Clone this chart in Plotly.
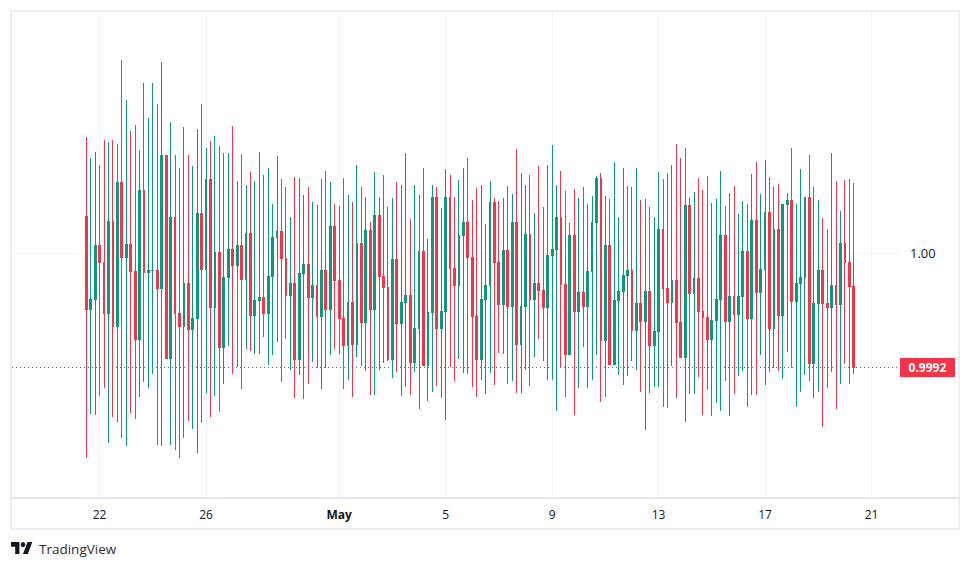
from datetime import datetime, timedelta
import plotly.graph_objects as go

# 4-hour candles, prices held as offsets from 1.00 in millionths.
START = datetime(2023, 4, 21, 12)
STEP_HOURS = 4
FIRST_OPEN = 253
CLOSE_OFFSETS = [
    -393, -323, 56, -70, -421, 218, -519, 498, -28, 63, -133, -604, 442, -140, -126, -123, -246, 681, -737, 246,
    -421, -519, -211, -540, -463, 274, -119, 519, -379, 7, -660, -175, 28, -91, 56, -189, 140, -435, -330, -309,
    -421, -168, 112, 154, -42, -295, -211, -744, -147, -84, -309, -225, -442, -126, -393, 189, -196, -463, -646, -344,
    -639, 70, -491, 161, -393, 260, -168, -239, -744, -49, -498, -344, -295, -765, -533, 14, -786, -414, 386, -533,
    -407, 386, -112, -225, 126, 211, -28, -442, -744, -323, -225, 351, -70, -358, 21, -372, 211, -639, -372, 133,
    -323, -211, -260, -379, -14, 28, 246, -218, -709, 126, -407, -274, -372, -133, 211, 526, -611, 56, -779, -330,
    -267, -161, -126, -547, -351, -484, -267, -646, -554, 168, -246, -344, -196, -491, -730, 330, -281, -182, -407, -449,
    -604, -477, -323, 126, -484, -302, -428, -302, 14, -463, 225, -274, -119, 281, -533, 168, -435, 337, 365, -337,
    -211, -175, 386, -772, -351, -126, -351, -379, -225, -358, 70, -70, -232, -800,
]
HIGH_OFFSETS = [
    812, 667, 709, 615, 793, 779, 793, 765, 1354, 1074, 856, 898, 723, 1193, 947, 1193, 1046, 1340, 681, 919,
    688, 597, 884, 688, 611, 870, 1046, 737, 786, 821, 751, 702, 702, 891, 505, 695, 477, 568, 505, 709,
    547, 597, 344, 681, 519, 463, 253, 533, 526, 407, 463, 358, 337, 519, 575, 498, 344, 330, 526, 407,
    358, 618, 463, 393, 218, 568, 393, 547, 323, 386, 498, 477, 702, 239, 477, 407, 597, 98, 477, 463,
    316, 590, 547, 393, 512, 597, 667, 372, 456, 477, 204, 505, 386, 365, 386, 470, 414, 730, 561, 477,
    547, 281, 611, 323, 618, 758, 477, 575, 435, 211, 449, 386, 463, 344, 400, 540, 561, 400, 379, 639,
    253, 597, 470, 463, 597, 372, 379, 323, 253, 568, 519, 561, 618, 765, 667, 737, 393, 428, 526, 442,
    540, 351, 379, 575, 330, 421, 470, 274, 365, 344, 554, 639, 414, 653, 533, 463, 484, 337, 421, 737,
    344, 590, 386, 688, 463, 372, 246, 168, 702, 505, 295, 512, 519, 491,
]
LOW_OFFSETS = [
    -1439, -1130, -1137, -1004, -947, -1333, -1151, -1186, -1298, -1354, -1123, -1165, -1011, -905, -947, -849, -1347, -1354, -737, -1347,
    -1383, -1439, -1298, -1179, -1235, -1404, -1193, -983, -1151, -1004, -1116, -919, -653, -849, -800, -954, -674, -688, -709, -709,
    -590, -786, -716, -625, -905, -604, -821, -1018, -856, -1025, -919, -765, -807, -954, -807, -716, -674, -709, -954, -891,
    -1011, -730, -793, -828, -997, -997, -821, -772, -758, -877, -835, -1004, -940, -997, -835, -1095, -786, -1039, -976, -933,
    -1018, -1172, -800, -898, -744, -842, -849, -940, -1011, -891, -990, -842, -926, -702, -709, -919, -898, -983, -983, -821,
    -933, -730, -604, -758, -891, -891, -1109, -800, -1011, -709, -1137, -947, -660, -947, -891, -716, -1046, -1011, -779, -779,
    -856, -926, -863, -758, -821, -976, -1242, -983, -940, -940, -1081, -1088, -793, -1018, -730, -1186, -990, -990, -870, -1137,
    -961, -1144, -1053, -1109, -898, -1144, -990, -863, -828, -1081, -997, -997, -716, -926, -835, -807, -828, -884, -695, -807,
    -1081, -976, -856, -898, -1018, -976, -1221, -947, -835, -1095, -919, -779, -919, -849,
]
DATE_TICKS = ["2023-04-22", "2023-04-26", "2023-05-01", "2023-05-05", "2023-05-09", "2023-05-13", "2023-05-17", "2023-05-21"]
DATE_LABELS = ["22", "26", "<b>May</b>", "5", "9", "13", "17", "21"]
PRICE_TICKS = [1.0]
PRICE_LABELS = ["1.00"]
X_RANGE = ["2023-04-18 17:00", "2023-05-22 01:40"]
Y_RANGE = [0.998281, 1.001691]

UP = "#089981"
DOWN = "#F63448"
GRID = "#F3F4F9"
FRAME = "#EEEFF5"
RULE = "#E4E4EE"
INK = "#131722"
FONT = "Open Sans"

WIDTH, HEIGHT = 970, 568
M_L, M_R, M_T, M_B = 12, 70, 12, 70
PLOT_W, PLOT_H = WIDTH - M_L - M_R, HEIGHT - M_T - M_B

# Snap candle strokes and the last-price line to whole pixels once drawn.
CRISP_MARKS = """
document.querySelectorAll('.boxes path, .layer-below .shapelayer path').forEach(function (p) {
  p.style.shapeRendering = 'crispEdges';
});
"""


def to_price(offset):
    return round(1 + offset * 1e-6, 6)


times = [START + timedelta(hours=STEP_HOURS * i) for i in range(len(CLOSE_OFFSETS))]
closes = [to_price(v) for v in CLOSE_OFFSETS]
opens = [to_price(FIRST_OPEN)] + closes[:-1]
highs = [to_price(v) for v in HIGH_OFFSETS]
lows = [to_price(v) for v in LOW_OFFSETS]


def px_x(x):
    return (x - M_L) / PLOT_W


def px_y(y):
    return 1 - (y - M_T) / PLOT_H


def logo_path(x0, y0, sx, sy):
    def pt(x, y):
        return f"{px_x(x0 + x * sx):.5f},{px_y(y0 + y * sy):.5f}"

    stem = [(14, 22), (7, 22), (7, 11), (0, 11), (0, 4), (14, 4)]
    slant = [(28, 22), (20, 22), (27.5, 4), (35.5, 4)]
    dot = [(24, 8), (22.8, 10.8), (20, 12), (17.2, 10.8), (16, 8), (17.2, 5.2), (20, 4), (22.8, 5.2)]
    return " ".join(
        "M" + " L".join(pt(*p) for p in shape) + " Z" for shape in (stem, slant, dot)
    )


fig = go.Figure(
    go.Candlestick(
        x=times,
        open=opens,
        high=highs,
        low=lows,
        close=closes,
        increasing=dict(line=dict(color=UP, width=1), fillcolor=UP),
        decreasing=dict(line=dict(color=DOWN, width=1), fillcolor=DOWN),
        whiskerwidth=0,
        hoverinfo="skip",
        showlegend=False,
    )
)

fig.update_layout(
    width=WIDTH,
    height=HEIGHT,
    margin=dict(l=M_L, r=M_R, t=M_T, b=M_B, pad=0),
    paper_bgcolor="#FFFFFF",
    plot_bgcolor="#FFFFFF",
    font=dict(family=FONT, size=12, color=INK),
    showlegend=False,
    boxgap=0.42,
    xaxis=dict(
        type="date",
        range=X_RANGE,
        rangeslider=dict(visible=False),
        tickmode="array",
        tickvals=DATE_TICKS,
        ticktext=DATE_LABELS,
        showgrid=True,
        gridcolor=GRID,
        gridwidth=1,
        zeroline=False,
        showline=False,
        ticks="",
        ticklabelstandoff=8,
        tickfont=dict(family=FONT, size=12, color=INK),
    ),
    yaxis=dict(
        side="right",
        range=Y_RANGE,
        tickmode="array",
        tickvals=PRICE_TICKS,
        ticktext=PRICE_LABELS,
        showgrid=True,
        gridcolor=GRID,
        gridwidth=1,
        zeroline=False,
        showline=False,
        ticks="",
        ticklabelstandoff=9,
        tickfont=dict(family=FONT, size=13, color=INK),
    ),
    shapes=[
        # Outer frame and the rule above the time scale.
        dict(type="rect", xref="paper", yref="paper", x0=px_x(11), x1=px_x(959), y0=px_y(529), y1=px_y(11),
             line=dict(color=FRAME, width=2), layer="below"),
        dict(type="line", xref="paper", yref="paper", x0=px_x(11), x1=px_x(959), y0=px_y(498), y1=px_y(498),
             line=dict(color=RULE, width=1.5), layer="below"),
        # Last-price line.
        dict(type="line", xref="x domain", yref="y", x0=0, x1=1, y0=closes[-1], y1=closes[-1],
             line=dict(color=DOWN, width=1, dash="1px,3px"), layer="below"),
        # Logo mark.
        dict(type="path", xref="paper", yref="paper", path=logo_path(11, 539.3, 0.6, 0.667),
             fillcolor=INK, line=dict(width=0), layer="above"),
    ],
    annotations=[
        dict(xref="paper", yref="y", x=1, y=closes[-1], xanchor="left", yanchor="middle",
             text=f"<b>{closes[-1]:.4f}</b>", showarrow=False, width=55, height=19, align="center",
             bgcolor=DOWN, borderpad=0, borderwidth=0, font=dict(family=FONT, size=12, color="#FFFFFF")),
        dict(xref="paper", yref="paper", x=px_x(37), y=px_y(549), xanchor="left", yanchor="middle",
             text="TradingView", showarrow=False, font=dict(family=FONT, size=13.5, color="#2A2E39")),
    ],
)

fig.write_html("out.html", post_script=CRISP_MARKS)
